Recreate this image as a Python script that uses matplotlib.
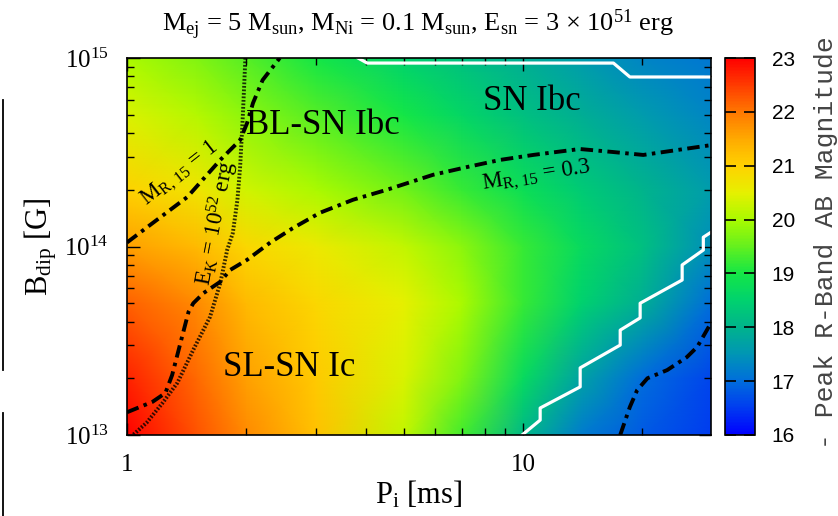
import numpy as np
import matplotlib
matplotlib.use("Agg")
import matplotlib.pyplot as plt
from matplotlib.colors import LinearSegmentedColormap
from matplotlib.lines import Line2D
from matplotlib.ticker import FixedLocator, NullFormatter

plt.rcParams['font.family'] = 'Liberation Serif'
plt.rcParams['mathtext.fontset'] = 'custom'
plt.rcParams['mathtext.rm'] = 'Liberation Serif'
plt.rcParams['mathtext.it'] = 'Liberation Serif:italic'

# map nodes
period_ms = [1, 1.5, 2, 3, 5, 7, 10, 14, 20, 30]
b_dip = [1e13, 2e13, 5e13, 1e14, 2e14, 5e14, 1e15]
peak_mag = [
    [23.0, 22.3, 21.8, 21.2, 20.2, 19.3, 18.1, 17.2, 16.8, 16.5],
    [22.7, 22.1, 21.6, 21.1, 20.4, 19.7, 18.7, 17.7, 17.0, 16.6],
    [22.2, 21.8, 21.3, 20.9, 20.5, 20.0, 19.2, 18.5, 17.9, 17.0],
    [21.6, 21.3, 20.9, 20.6, 20.2, 19.8, 19.2, 18.7, 18.2, 17.4],
    [21.0, 20.7, 20.3, 20.0, 19.6, 19.2, 18.8, 18.4, 18.0, 17.6],
    [20.4, 20.1, 19.8, 19.4, 19.0, 18.6, 18.2, 17.9, 17.6, 17.3],
    [20.0, 19.7, 19.4, 19.0, 18.5, 18.2, 17.9, 17.6, 17.3, 17.1],
]

# contour paths (P [ms], B [G])
mr1_p = [1.0, 1.16, 1.42, 1.72, 1.93, 2.01, 2.08, 2.20, 2.43]
mr1_b = [1.05e14, 1.33e14, 1.83e14, 2.88e14, 3.67e14, 4.52e14, 5.77e14, 7.64e14, 1e15]

mr03_p = [1.0, 1.16, 1.25, 1.30, 1.36, 1.43, 1.47, 1.56, 1.72, 1.82, 2.01, 2.30, 2.62,
          3.07, 3.72, 4.53, 5.92, 7.22, 8.75, 10.6, 13.9, 16.9, 20.1, 24.5, 29.8]
mr03_b = [1.32e13, 1.5e13, 1.67e13, 2.08e13, 3.0e13, 4.5e13, 5.0e13, 5.66e13, 6.5e13, 7.5e13,
          8.5e13, 1.05e14, 1.25e14, 1.51e14, 1.77e14, 2.0e14, 2.4e14, 2.64e14, 2.88e14,
          3.06e14, 3.29e14, 3.17e14, 3.06e14, 3.25e14, 3.45e14]

mr03b_p = [17.58, 18.6, 19.4, 20.6, 23.1, 25.9, 27.5, 29.8]
mr03b_b = [1e13, 1.41e13, 1.73e13, 2.0e13, 2.21e13, 2.59e13, 2.93e13, 3.93e13]

ek_p = [1.99, 1.96, 1.93, 1.90, 1.85, 1.79, 1.72, 1.62, 1.47, 1.34, 1.23, 1.12, 1.035]
ek_b = [1e15, 4.87e14, 2.64e14, 1.77e14, 1.18e14, 9.58e13, 6.4e13, 4.23e13, 2.83e13,
        1.89e13, 1.48e13, 1.16e13, 1e13]

wtop_p = [3.83, 4.04, 16.9, 18.6, 29.8]
wtop_b = [1e15, 9.4e14, 9.4e14, 7.93e14, 7.93e14]

wlow_p = [9.94, 11.04, 11.04, 13.93, 13.93, 17.58, 17.58, 19.74, 19.74, 25.2, 25.2, 28.5, 28.5, 29.8]
wlow_b = [1e13, 1.2e13, 1.39e13, 1.8e13, 2.27e13, 3.0e13, 3.6e13, 4.18e13, 5.0e13,
          6.64e13, 7.98e13, 9.58e13, 1.12e14, 1.19e14]

cmap_levels = [16, 16.5, 17, 17.5, 18, 18.5, 19, 19.5, 20, 20.5, 21, 21.5, 22, 22.5, 23]
cmap_colors = ['#0000ff', '#003cf0', '#006edc', '#0096b4', '#00b48c', '#00d26e', '#14e646',
               '#64f01e', '#aafa00', '#e6f000', '#ffd200', '#ffaa00', '#ff7800', '#ff3c00', '#ff0000']
cmap = LinearSegmentedColormap.from_list(
    'mag', [((v - 16) / 7, c) for v, c in zip(cmap_levels, cmap_colors)])

W, H = 838, 516
fig = plt.figure(figsize=(W / 100, H / 100), dpi=100)
ax = fig.add_axes([127 / W, 1 - 435 / H, 584 / W, 377 / H])

PP, BB = np.meshgrid(period_ms, b_dip)
mesh = ax.pcolormesh(PP, BB, np.array(peak_mag), cmap=cmap, vmin=16, vmax=23, shading='gouraud')
ax.set_xscale('log'); ax.set_yscale('log')
ax.set_xlim(1, 29.8); ax.set_ylim(1e13, 1e15)

dashdot = (0, (3.2, 1.4, 0.9, 1.4))
ax.plot(mr1_p, mr1_b, color='k', lw=2.8, ls=dashdot)
ax.plot(mr03_p, mr03_b, color='k', lw=2.8, ls=dashdot)
ax.plot(mr03b_p, mr03b_b, color='k', lw=2.8, ls=dashdot)
ax.plot(ek_p, ek_b, color='k', lw=2.8, ls=(0, (0.45, 0.45)), alpha=0.8)
ax.plot(wtop_p, wtop_b, color='white', lw=2.3)
ax.plot(wlow_p, wlow_b, color='white', lw=2.3)

ax.text(2.0, 4.4e14, 'BL-SN Ibc', fontsize=25, ha='left', va='center')
ax.text(10.5, 5.85e14, 'SN Ibc', fontsize=25, ha='center', va='center')
ax.text(2.56, 2.27e13, 'SL-SN Ic', fontsize=25, ha='center', va='center')
ax.text(1.36, 2.43e14, r'M$_{\rm R,\,15}$ = 1', fontsize=16.5, ha='center', va='center', rotation=38)
ax.text(1.68, 1.33e14, r'E$_{\rm K}$ = 10$^{52}$ erg', fontsize=16.5, ha='center', va='center', rotation=79)
ax.text(10.8, 2.34e14, r'M$_{\rm R,\,15}$ = 0.3', fontsize=16.5, ha='center', va='center', rotation=9)

ax.xaxis.set_major_locator(FixedLocator([1, 10]))
ax.set_xticklabels(['1', '10'])
ax.xaxis.set_minor_locator(FixedLocator([2, 3, 4, 5, 6, 7, 8, 9, 20]))
ax.xaxis.set_minor_formatter(NullFormatter())
ax.tick_params(which='both', direction='in', top=True, right=True, labelsize=18, width=1)
ax.tick_params(which='major', length=9)
ax.tick_params(which='minor', length=5)
ax.tick_params(axis='x', pad=14)
ax.tick_params(axis='y', pad=13)
for s in ax.spines.values():
    s.set_linewidth(1.2)

ax.set_xlabel(r'P$_{\rm i}$ [ms]', fontsize=22, labelpad=2)
ax.set_ylabel(r'B$_{\rm dip}$ [G]', fontsize=22, labelpad=4)
fig.text(418 / W, 1 - 25 / H,
         r'M$_{\rm ej}$ = 5 M$_{\rm sun}$, M$_{\rm Ni}$ = 0.1 M$_{\rm sun}$, E$_{\rm sn}$ = 3 $\times$ 10$^{51}$ erg',
         fontsize=19, ha='center', va='center')

cax = fig.add_axes([725 / W, 1 - 435 / H, 30 / W, 377 / H])
cb = fig.colorbar(mesh, cax=cax, ticks=range(16, 24))
cax.set_yticklabels([str(v) for v in range(16, 24)], fontfamily='Liberation Sans')
cax.tick_params(direction='in', length=8, width=1.2, left=True, right=True, labelsize=15, pad=12)
cb.outline.set_linewidth(1.2)
fig.text(826 / W, 1 - 243 / H, '- Peak R-Band AB Magnitude', rotation=90, fontsize=19,
         family='Liberation Mono', color='#444444', ha='center', va='center')

# page border fragments at the left edge
fig.add_artist(Line2D([0.003, 0.003], [1 - 100 / H, 1 - 370 / H], transform=fig.transFigure, color='k', lw=1.3))
fig.add_artist(Line2D([0.003, 0.003], [1 - 413 / H, 0], transform=fig.transFigure, color='k', lw=1.3))

fig.savefig('out.png', dpi=100)
